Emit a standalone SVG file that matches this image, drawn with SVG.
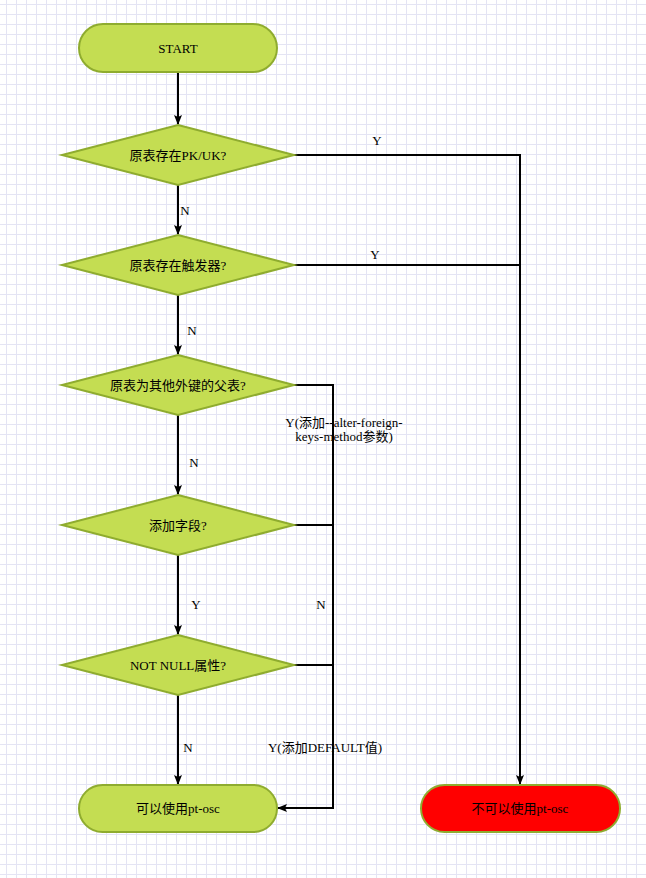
<svg xmlns="http://www.w3.org/2000/svg" width="646" height="878" viewBox="0 0 646 878">
<defs>
<pattern id="grid" x="6" y="4" width="10" height="10" patternUnits="userSpaceOnUse">
<path d="M0 0.5H10M0.5 0V10" fill="none" stroke="#e4e4f4" stroke-width="1"/>
</pattern>
<marker id="arr" viewBox="0 0 10 10" refX="9" refY="5" markerWidth="10" markerHeight="10" markerUnits="userSpaceOnUse" orient="auto">
<path d="M0 1L10 5L0 9L2 5Z" fill="#000"/>
</marker>
<style>
.node{fill:#c4dd52;stroke:#8fac2f;stroke-width:2}
.red{fill:#ff0000;stroke:#8fac2f;stroke-width:2}
.t{font-family:"Liberation Serif","Noto Sans CJK SC",serif;font-size:13px;fill:#000;text-anchor:middle;dominant-baseline:central}
.l{font-family:"Liberation Serif","Noto Sans CJK SC",serif;font-size:13px;fill:#000;text-anchor:middle;dominant-baseline:central}
.c{fill:none;stroke:#000;stroke-width:2}
</style>
</defs>
<rect width="646" height="878" fill="#fff"/>
<rect width="646" height="878" fill="url(#grid)"/>
<g id="connectors">
<path class="c" d="M178 72V124" marker-end="url(#arr)"/>
<path class="c" d="M178 185V234" marker-end="url(#arr)"/>
<path class="c" d="M178 295V354" marker-end="url(#arr)"/>
<path class="c" d="M178 415V494" marker-end="url(#arr)"/>
<path class="c" d="M178 555V634" marker-end="url(#arr)"/>
<path class="c" d="M178 695V784" marker-end="url(#arr)"/>
<path class="c" d="M294 155H520V784" marker-end="url(#arr)"/>
<path class="c" d="M294 265H520"/>
<path class="c" d="M294 385H333V808H278" marker-end="url(#arr)"/>
<path class="c" d="M294 525H333"/>
<path class="c" d="M294 665H333"/>
<text class="l" x="185" y="210">N</text>
<text class="l" x="192" y="330">N</text>
<text class="l" x="194" y="462">N</text>
<text class="l" x="196" y="604">Y</text>
<text class="l" x="188" y="747">N</text>
<text class="l" x="377" y="140">Y</text>
<text class="l" x="375" y="254">Y</text>
<text class="l" x="344" y="422">Y(添加--alter-foreign-</text>
<text class="l" x="344" y="436">keys-method参数)</text>
<text class="l" x="321" y="604">N</text>
<text class="l" x="325" y="747">Y(添加DEFAULT值)</text>
</g>
<g id="start">
<rect class="node" x="79" y="24" width="198" height="48" rx="24"/>
<text class="t" x="178" y="48">START</text>
</g>
<g id="q1">
<polygon class="node" points="178,125 294,155 178,185 62,155"/>
<text class="t" x="178" y="155">原表存在PK/UK?</text>
</g>
<g id="q2">
<polygon class="node" points="178,235 294,265 178,295 62,265"/>
<text class="t" x="178" y="265">原表存在触发器?</text>
</g>
<g id="q3">
<polygon class="node" points="178,355 294,385 178,415 62,385"/>
<text class="t" x="178" y="385">原表为其他外键的父表?</text>
</g>
<g id="q4">
<polygon class="node" points="178,495 294,525 178,555 62,525"/>
<text class="t" x="178" y="525">添加字段?</text>
</g>
<g id="q5">
<polygon class="node" points="178,635 294,665 178,695 62,665"/>
<text class="t" x="178" y="665">NOT NULL属性?</text>
</g>
<g id="can">
<rect class="node" x="79" y="785" width="198" height="47" rx="23.5"/>
<text class="t" x="178" y="808">可以使用pt-osc</text>
</g>
<g id="cannot">
<rect class="red" x="421" y="785" width="199" height="47" rx="23.5"/>
<text class="t" x="520" y="808">不可以使用pt-osc</text>
</g>
</svg>
